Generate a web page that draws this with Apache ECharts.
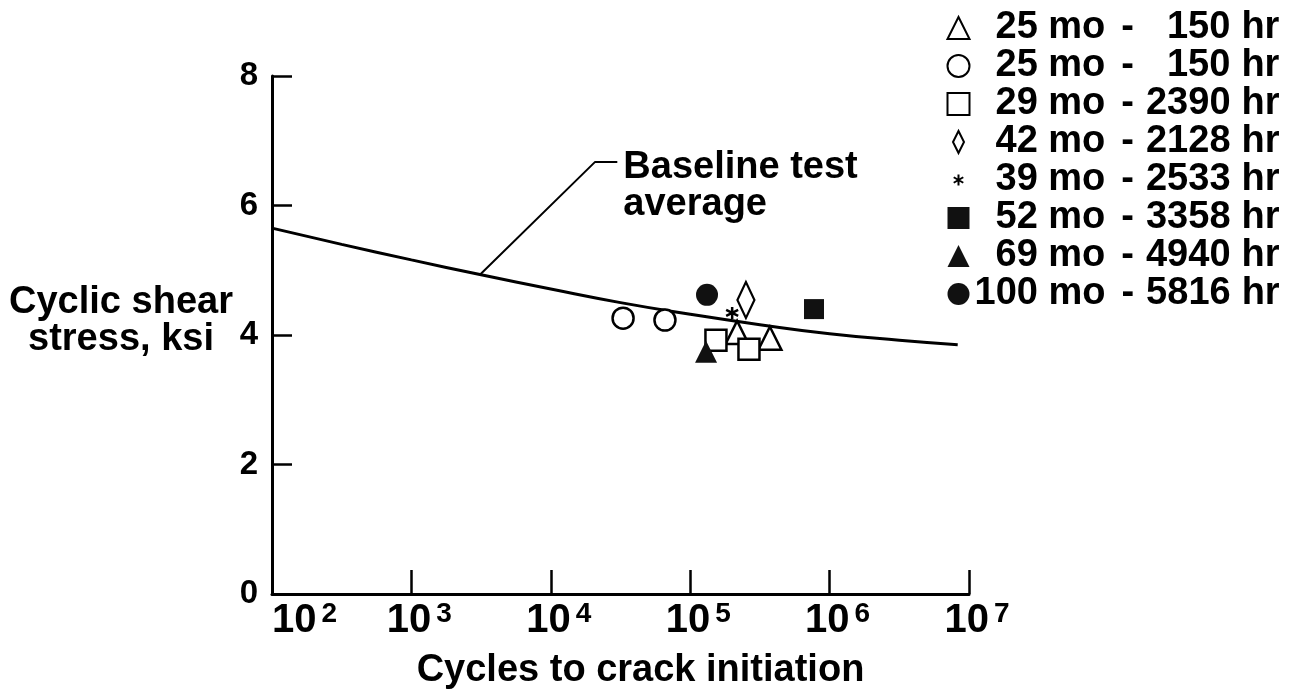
<!DOCTYPE html>
<html>
<head>
<meta charset="utf-8">
<title>Cyclic shear stress vs cycles to crack initiation</title>
<script src="https://cdn.jsdelivr.net/npm/echarts@6/dist/echarts.min.js"></script>
<style>
  html, body { margin: 0; padding: 0; background: #fff; }
  #chart { width: 1293px; height: 700px; }
</style>
</head>
<body>
<div id="chart"></div>
<script>
// baseline test average curve
var baselineCycles = [100, 316, 1000, 3162, 10000, 31623, 100000, 316228, 1000000, 3162278, 8300000];
var baselineStress = [5.65, 5.40, 5.16, 4.93, 4.71, 4.50, 4.32, 4.16, 4.02, 3.92, 3.85];

// leader line from the curve to the "Baseline test average" note
var leaderCycles = [3100, 20700, 30000];
var leaderStress = [4.93, 6.67, 6.67];

// specimens (legend order)
var ageMonths = ['25', '25', '29', '42', '39', '52', '69', '100'];
var testHours = ['150', '150', '2390', '2128', '2533', '3358', '4940', '5816'];
var seriesNames = ['25 mo - 150 hr', '25 mo - 150 hr #2', '29 mo - 2390 hr', '42 mo - 2128 hr',
  '39 mo - 2533 hr', '52 mo - 3358 hr', '69 mo - 4940 hr', '100 mo - 5816 hr'];
var pointCycles = [[217000, 373000], [33000, 65900], [153000, 264000], [251000], [200000], [773000], [130000], [132000]];
var pointStress = [[4.04, 3.95], [4.26, 4.23], [3.92, 3.78], [4.54], [4.34], [4.40], [3.74], [4.62]];

var FONT = '"Liberation Sans", Arial, Helvetica, sans-serif';
var INK = '#000';
var STAR = 'path://M0,-1L0,1M-0.87,-0.5L0.87,0.5M-0.87,0.5L0.87,-0.5';
// same star, padded with empty moves so the legend draws it smaller
var STAR_ICON = 'path://M0,-1L0,1M-0.87,-0.5L0.87,0.5M-0.87,0.5L0.87,-0.5M-2,-2L-2,-2M2,2L2,2';
var TALL_DIAMOND = 'path://M0,-2L1,0L0,2L-1,0Z';

// symbol per specimen: [symbol, filled, size]
var symbols = [
  ['triangle', false, 23],
  ['circle', false, 21],
  ['rect', false, 21],
  ['diamond', false, [17, 36]],
  [STAR, false, 12],
  ['rect', true, 20],
  ['triangle', true, 22],
  ['circle', true, 22]
];

function pairs(xs, ys) {
  return xs.map(function (x, i) { return [x, ys[i]]; });
}

function bold(size, extra) {
  var s = { fontFamily: FONT, fontWeight: 'bold', fontSize: size, color: INK };
  for (var k in extra) s[k] = extra[k];
  return s;
}

var chart = echarts.init(document.getElementById('chart'));

var series = [];
series.push({
  name: 'baseline',
  type: 'line',
  data: pairs(baselineCycles, baselineStress),
  smooth: true,
  showSymbol: false,
  silent: true,
  lineStyle: { color: INK, width: 3 },
  z: 1
});

series.push({
  name: 'leader',
  type: 'line',
  data: pairs(leaderCycles, leaderStress),
  showSymbol: false,
  symbol: 'none',
  silent: true,
  lineStyle: { color: INK, width: 2 },
  endLabel: bold(38, {
    show: true,
    distance: 6,
    offset: [0, 24],
    formatter: 'Baseline test\naverage',
    lineHeight: 37,
    align: 'left'
  }),
  z: 1
});

seriesNames.forEach(function (name, i) {
  var s = symbols[i];
  var star = s[0] === STAR;
  series.push({
    name: name,
    type: 'scatter',
    data: pairs(pointCycles[i], pointStress[i]),
    symbol: s[0],
    symbolSize: s[2],
    itemStyle: {
      color: s[1] ? '#111' : (star ? 'none' : '#fff'),
      borderColor: INK,
      borderWidth: s[1] ? 0 : 2.5,
      opacity: 1
    },
    z: 3
  });
});

var legendData = seriesNames.map(function (name, i) {
  if (symbols[i][0] === 'diamond') return { name: name, icon: TALL_DIAMOND };
  if (symbols[i][0] === STAR) return { name: name, icon: STAR_ICON };
  return { name: name };
});

var option = {
  animation: false,
  backgroundColor: '#fff',
  grid: { left: 272, right: 324, top: 76, bottom: 106, outerBoundsMode: 'none' },
  legend: {
    data: legendData,
    orient: 'vertical',
    left: 940,
    top: 4,
    itemWidth: 22,
    itemHeight: 22,
    itemGap: 0,
    selectedMode: false,
    formatter: function (name) {
      var i = seriesNames.indexOf(name);
      var age = (ageMonths[i].length < 3 ? '{p|\u00a0}' : '') + '{t|' + ageMonths[i] + ' mo}';
      var hrs = (testHours[i].length < 4 ? '{p|\u00a0}' : '') + '{t|' + testHours[i] + '}';
      return age + '{g|-}' + hrs + '{h|hr}';
    },
    textStyle: bold(38, {
      lineHeight: 38,
      rich: {
        t: bold(38, { lineHeight: 38 }),
        p: bold(38, { lineHeight: 38, width: 21 }),
        g: bold(38, { lineHeight: 38, padding: [0, 12, 0, 16] }),
        h: bold(38, { lineHeight: 38, padding: [0, 0, 0, 11] })
      }
    })
  },
  xAxis: {
    type: 'log',
    logBase: 10,
    min: 100,
    max: 10000000,
    name: 'Cycles to crack initiation',
    nameLocation: 'middle',
    nameGap: 58,
    nameTextStyle: bold(38, { padding: [0, 0, 0, 40] }),
    axisLine: { lineStyle: { color: INK, width: 3 } },
    axisTick: { inside: true, length: 24, lineStyle: { color: INK, width: 2.5 } },
    splitLine: { show: false },
    minorTick: { show: false },
    axisLabel: {
      margin: 6,
      alignMinLabel: 'left',
      formatter: function (v) {
        var e = Math.round(Math.log10(v));
        return (e > 2 ? '{sp|\u00a0}' : '') + '{b|10}{s|' + e + '}';
      },
      rich: {
        sp: bold(40, { lineHeight: 42, width: 16 }),
        b: bold(40, { lineHeight: 42 }),
        s: bold(28, { verticalAlign: 'top', lineHeight: 42, padding: [0, 0, 0, 5] })
      }
    }
  },
  yAxis: {
    type: 'value',
    min: 0,
    max: 8,
    interval: 2,
    // third, nearly empty line lifts the two title lines a little above the axis middle
    name: '{n|Cyclic shear}\n{n|stress, ksi}\n{e|\u00a0}',
    nameLocation: 'middle',
    nameRotate: 0,
    nameGap: 151,
    nameTextStyle: bold(38, {
      align: 'center',
      verticalAlign: 'middle',
      rich: {
        n: bold(38, { lineHeight: 37 }),
        e: bold(10, { lineHeight: 27 })
      }
    }),
    axisLine: { show: true, lineStyle: { color: INK, width: 3 } },
    axisTick: { show: true, inside: true, length: 20, lineStyle: { color: INK, width: 2.5 } },
    splitLine: { show: false },
    axisLabel: bold(33, { margin: 14 })
  },
  series: series
};

chart.setOption(option);
</script>
</body>
</html>
